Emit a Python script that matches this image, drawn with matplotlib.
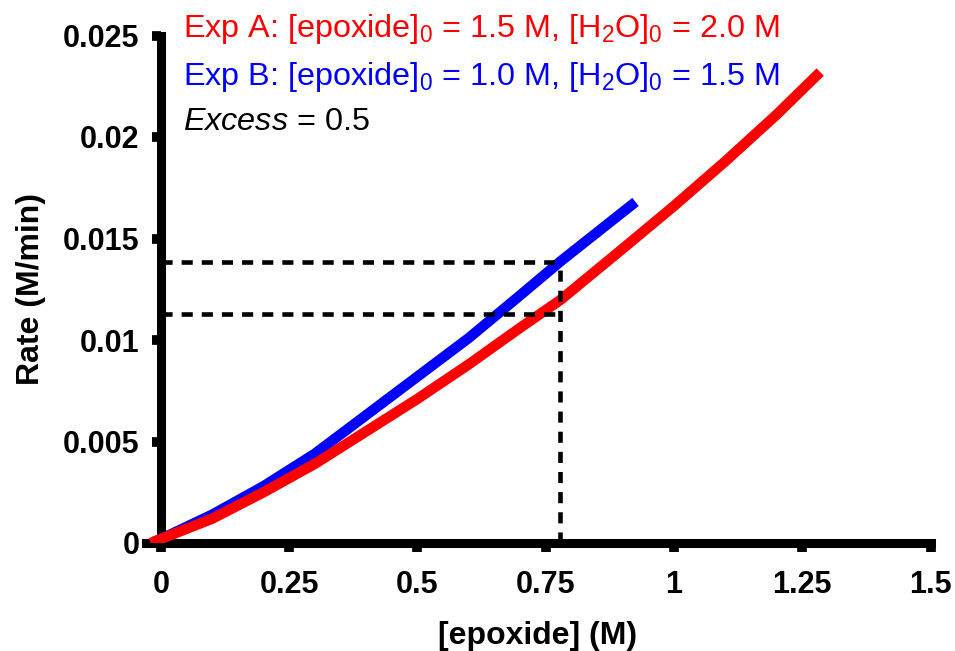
import matplotlib
matplotlib.use("Agg")
import matplotlib.pyplot as plt

plt.rcParams['font.family'] = ['Liberation Sans', 'DejaVu Sans']
plt.rcParams['mathtext.fontset'] = 'custom'
plt.rcParams['mathtext.rm'] = 'Liberation Sans'
plt.rcParams['mathtext.it'] = 'Liberation Sans:italic'
plt.rcParams['mathtext.bf'] = 'Liberation Sans:bold'
plt.rcParams['lines.scale_dashes'] = False

# Experiment A: rate vs [epoxide]
exp_a_conc = [-0.02, 0.0, 0.1, 0.2, 0.3, 0.4, 0.5, 0.6, 0.7, 0.78, 0.9, 1.0, 1.1, 1.2, 1.285]
exp_a_rate = [0.0, 0.0002, 0.0012, 0.0025, 0.0039, 0.0055, 0.0071, 0.0088, 0.0106, 0.0120,
              0.0145, 0.0166, 0.0188, 0.0211, 0.0232]

# Experiment B: rate vs [epoxide]
exp_b_conc = [-0.015, 0.0, 0.1, 0.2, 0.3, 0.4, 0.5, 0.6, 0.7, 0.78, 0.85, 0.925]
exp_b_rate = [0.00005, 0.0002, 0.0014, 0.0028, 0.0044, 0.0063, 0.0082, 0.0101, 0.0122, 0.0139,
              0.0153, 0.0168]

# Guide lines comparing the two runs at the same rate
guide_conc = 0.778
guide_rate_b = 0.01384
guide_rate_a = 0.01128

x_ticks = [0, 0.25, 0.5, 0.75, 1, 1.25, 1.5]
x_tick_labels = ['0', '0.25', '0.5', '0.75', '1', '1.25', '1.5']
y_ticks = [0, 0.005, 0.01, 0.015, 0.02, 0.025]
y_tick_labels = ['0', '0.005', '0.01', '0.015', '0.02', '0.025']

W, H = 955, 651
fig = plt.figure(figsize=(W / 100, H / 100), dpi=100)
x0_px, x1_px = 145.6, 930.5
y0_px, y1_px = 543.0, 35.5
ax = fig.add_axes([x0_px / W, (H - y0_px) / H, (x1_px - x0_px) / W, (y0_px - y1_px) / H])
ax.set_xlim(-0.03, 1.5)
ax.set_ylim(0, 0.025)

ax.plot(exp_b_conc, exp_b_rate, color='#0000ff', lw=7.5, solid_capstyle='butt',
        solid_joinstyle='round', zorder=3)
ax.plot(exp_a_conc, exp_a_rate, color='#ff0000', lw=7.5, solid_capstyle='butt',
        solid_joinstyle='round', zorder=4)

dash = (0, (8, 6.5))
for (xs, ys) in [([0, guide_conc], [guide_rate_b, guide_rate_b]),
                 ([0, guide_conc], [guide_rate_a, guide_rate_a]),
                 ([guide_conc, guide_conc], [0, guide_rate_b])]:
    ax.plot(xs, ys, color='black', lw=3.3, linestyle=dash, zorder=5)

for side in ['top', 'right']:
    ax.spines[side].set_visible(False)
ax.spines['left'].set_position(('data', 0))
for side in ['left', 'bottom']:
    ax.spines[side].set_linewidth(6.5)
    ax.spines[side].set_zorder(2)

ax.set_xticks(x_ticks)
ax.set_xticklabels(x_tick_labels)
ax.set_yticks(y_ticks)
ax.set_yticklabels(y_tick_labels)
ax.tick_params(axis='both', direction='out', length=6.5, width=7, labelsize=22)
ax.tick_params(axis='x', pad=13)
ax.tick_params(axis='y', pad=9)
for lab in ax.get_xticklabels() + ax.get_yticklabels():
    lab.set_fontweight('bold')

ax.set_xlabel('[epoxide] (M)', fontsize=23, fontweight='bold', labelpad=15)
ax.set_ylabel('Rate (M/min)', fontsize=23, fontweight='bold', labelpad=12)

text_x = 0.043
ax.text(text_x, (543 - 37) * 0.025 / 507.5,
        r'Exp A: [epoxide]$_{0}$ = 1.5 M, [H$_{2}$O]$_{0}$ = 2.0 M',
        color='#ff0000', fontsize=23.3, va='baseline', ha='left')
ax.text(text_x, (543 - 85) * 0.025 / 507.5,
        r'Exp B: [epoxide]$_{0}$ = 1.0 M, [H$_{2}$O]$_{0}$ = 1.5 M',
        color='#0000ff', fontsize=23.3, va='baseline', ha='left')
ax.text(text_x, (543 - 130) * 0.025 / 507.5,
        r'$\mathit{Excess}$ = 0.5',
        color='black', fontsize=23.3, va='baseline', ha='left')

fig.savefig('out.png', dpi=100)
